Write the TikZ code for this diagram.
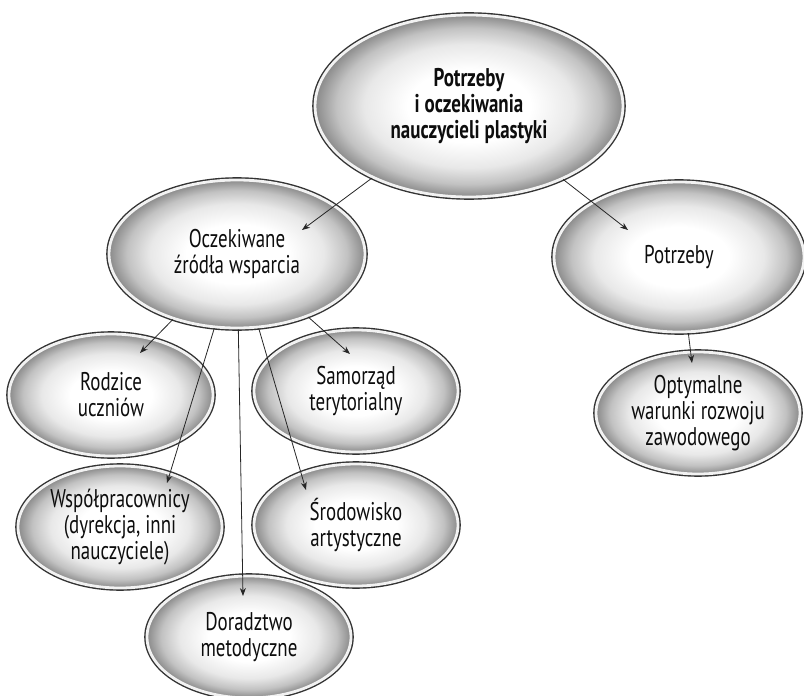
\documentclass[tikz,border=0pt]{standalone}
\usepackage{fontspec}
\setmainfont{PT Sans}[FakeStretch=0.74]
\usetikzlibrary{shapes.geometric,arrows.meta}
\pgfdeclareradialshading{bubble}{\pgfpoint{0bp}{0bp}}{color(0bp)=(white); color(10bp)=(white); color(17bp)=(black!9); color(21.5bp)=(black!24); color(25bp)=(black!46); color(50bp)=(black!46)}
\begin{document}
\begin{tikzpicture}[x=0.5pt,y=-0.5pt,
  bel/.style={ellipse,shading=bubble,inner sep=0pt,align=center,text=black!95,
    preaction={draw=black!80,line width=2.8pt},draw=black!5,line width=1.4pt,
    font=\fontsize{12.8}{13}\selectfont},
  small/.style={bel,minimum width=102pt,minimum height=61pt},
  arr/.style={-{Stealth[length=4pt,width=3pt]},line width=0.4pt,black!85}]
\useasboundingbox (0,0) rectangle (804,696);
%
\node[bel,font=\fontsize{12.8}{13}\selectfont\bfseries,minimum width=154pt,minimum height=91pt] (glowne) at (469,106) {Potrzeby\\i oczekiwania\\nauczycieli plastyki};
\node[bel,minimum width=128pt,minimum height=74pt] (zrodla) at (237,254) {Oczekiwane\\źródła wsparcia};
\node[bel,minimum width=125pt,minimum height=75pt] (potrzeby) at (679,257) {Potrzeby};
\node[small] (rodzice) at (111,395) {Rodzice\\uczniów};
\node[small] (samorzad) at (356,391) {Samorząd\\terytorialny};
\node[small] (optymalne) at (698,413) {Optymalne\\warunki rozwoju\\zawodowego};
\node[small] (wspolprac) at (120,527) {Współpracownicy\\(dyrekcja, inni\\nauczyciele)};
\node[small] (srodowisko) at (356,525) {Środowisko\\artystyczne};
\node[small] (doradztwo) at (249,637) {Doradztwo\\metodyczne};
%
\coordinate (tipZrodla) at (302,230);
\coordinate (tipPotrzeby) at (628,230);
\coordinate (tipRodzice) at (140,353);
\coordinate (tipWspolprac) at (167,483);
\coordinate (tipDoradztwo) at (243,596);
\coordinate (tipSrodowisko) at (306,490);
\coordinate (tipSamorzad) at (350,354);
\coordinate (tipOptymalne) at (692,363);
%
\draw[arr] (glowne) -- (tipZrodla);
\draw[arr] (glowne) -- (tipPotrzeby);
\draw[arr] (zrodla) -- (tipRodzice);
\draw[arr] (zrodla) -- (tipWspolprac);
\draw[arr] (zrodla) -- (tipDoradztwo);
\draw[arr] (zrodla) -- (tipSrodowisko);
\draw[arr] (zrodla) -- (tipSamorzad);
\draw[arr] (potrzeby) -- (tipOptymalne);
\end{tikzpicture}
\end{document}
